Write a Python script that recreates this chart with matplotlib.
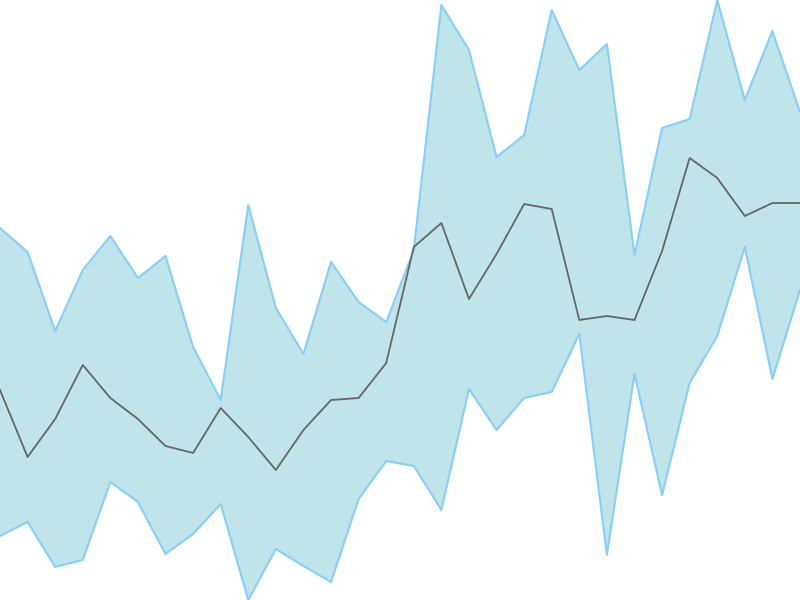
import matplotlib.pyplot as plt
import numpy as np

# values (pixel rows turned into heights, 0 = bottom)
upper = [228, 252, 331, 270, 236, 278, 256, 347, 400, 205,
         308, 354, 262, 302, 322, 250, 5, 50, 157, 135,
         10, 70, 44, 255, 128, 119, 0, 100, 31, 112]
middle = [390, 457, 419, 365, 398, 419, 446, 453, 408, 437,
          470, 430, 400, 398, 363, 247, 223, 299, 254, 204,
          209, 320, 316, 320, 251, 158, 178, 216, 203, 203]
lower = [536, 522, 567, 560, 482, 502, 554, 534, 504, 600,
         549, 566, 582, 499, 461, 466, 510, 389, 430, 398,
         392, 334, 555, 374, 495, 383, 336, 247, 379, 290]

upper = 600 - np.array(upper)
middle = 600 - np.array(middle)
lower = 600 - np.array(lower)
x = np.arange(len(middle))

fig = plt.figure(figsize=(8, 6), dpi=100)
ax = fig.add_axes([0, 0, 1, 1])
ax.fill_between(x, lower, upper, color='#bfe4e9', linewidth=0)
ax.plot(x, upper, color='#87cefa', linewidth=1.5)
ax.plot(x, lower, color='#87cefa', linewidth=1.5)
ax.plot(x, middle, color='#666666', linewidth=1.3)
ax.set_xlim(0, len(x) - 1)
ax.set_ylim(0, 600)
ax.axis('off')
fig.savefig('out.png')
